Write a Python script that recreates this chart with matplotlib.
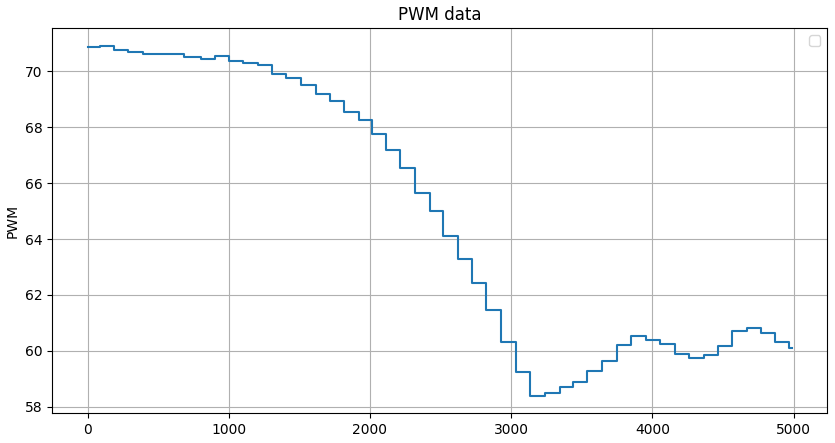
import matplotlib
matplotlib.use('Agg')
import matplotlib.pyplot as plt

# step start positions (sample index) and PWM level
step_x = [0, 90, 184, 286, 393, 681, 804, 901, 1000, 1102, 1206, 1308, 1407, 1513,
          1615, 1714, 1816, 1922, 2017, 2114, 2216, 2320, 2424, 2514, 2623, 2722,
          2821, 2929, 3034, 3135, 3236, 3348, 3441, 3538, 3645, 3752, 3847, 3955,
          4057, 4159, 4261, 4363, 4463, 4565, 4672, 4771, 4871, 4970]
pwm = [70.87, 70.92, 70.76, 70.70, 70.62, 70.52, 70.45, 70.56, 70.37, 70.31, 70.23,
       69.90, 69.75, 69.51, 69.21, 68.95, 68.56, 68.25, 67.76, 67.20, 66.56, 65.65,
       65.01, 64.10, 63.30, 62.44, 61.45, 60.31, 59.25, 58.40, 58.50, 58.70, 58.90,
       59.26, 59.65, 60.21, 60.52, 60.40, 60.26, 59.90, 59.76, 59.86, 60.17, 60.70,
       60.81, 60.65, 60.31, 60.11]
x_end = 4989

xs = step_x + [x_end]
ys = pwm + [pwm[-1]]

fig = plt.figure(figsize=(8.35, 4.43), dpi=100)
ax = fig.add_axes([52.3 / 835, 1 - 413 / 443, 775 / 835, 384.7 / 443])
ax.plot(xs, ys, drawstyle='steps-post', color='#1f77b4', lw=1.5)
ax.set_title('PWM data')
ax.set_ylabel('PWM')
ax.grid(True)
ax.legend(loc='upper right')

fig.savefig('out.png', dpi=100)
